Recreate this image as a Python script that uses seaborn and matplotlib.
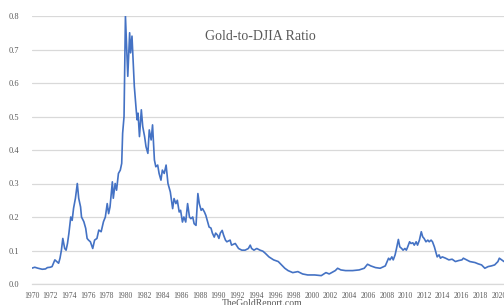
import matplotlib
matplotlib.use("Agg")
import matplotlib.pyplot as plt
import seaborn as sns
import pandas as pd

years = [1970.00, 1970.35, 1970.7, 1971.15, 1971.5, 1971.7, 1972.0, 1972.2, 1972.5, 1972.7,
         1972.9, 1973.05, 1973.2, 1973.35, 1973.55, 1973.7, 1973.85, 1974.0, 1974.2, 1974.35,
         1974.5, 1974.7, 1974.9, 1975.05, 1975.25, 1975.35, 1975.6, 1975.8, 1975.95, 1976.1,
         1976.3, 1976.55, 1976.75, 1977.0, 1977.2, 1977.45, 1977.7, 1977.9, 1978.1, 1978.25,
         1978.4, 1978.65, 1978.75, 1978.95, 1979.1, 1979.3, 1979.5, 1979.65, 1979.75, 1979.9,
         1980.05, 1980.3, 1980.5, 1980.6, 1980.75, 1980.85, 1981.0, 1981.2, 1981.3, 1981.4,
         1981.55, 1981.75, 1981.9, 1982.1, 1982.25, 1982.45, 1982.6, 1982.8, 1982.95, 1983.15,
         1983.3, 1983.5, 1983.65, 1983.85, 1984.0, 1984.2, 1984.4, 1984.6, 1984.85, 1985.1,
         1985.25, 1985.45, 1985.6, 1985.8, 1985.95, 1986.15, 1986.3, 1986.5, 1986.7, 1986.9,
         1987.05, 1987.25, 1987.4, 1987.6, 1987.8, 1987.95, 1988.15, 1988.3, 1988.5, 1988.65,
         1988.85, 1989.0, 1989.2, 1989.35, 1989.55, 1989.7, 1989.9, 1990.05, 1990.2, 1990.4,
         1990.55, 1990.75, 1990.9, 1991.25, 1991.4, 1991.8, 1992.15, 1992.5, 1992.85, 1993.2,
         1993.4, 1993.55, 1993.8, 1994.1, 1994.45, 1994.75, 1995.0, 1995.4, 1995.9, 1996.4,
         1996.75, 1997.1, 1997.45, 1997.95, 1998.5, 1999.0, 1999.55, 2000.3, 2001.0, 2001.5,
         2001.85, 2002.5, 2002.75, 2003.1, 2003.6, 2004.35, 2005.05, 2005.6, 2005.95, 2006.3,
         2006.8, 2007.3, 2007.85, 2008.2, 2008.35, 2008.55, 2008.7, 2008.9, 2009.05, 2009.25,
         2009.4, 2009.6, 2009.75, 2009.95, 2010.1, 2010.25, 2010.45, 2010.6, 2010.8, 2010.95,
         2011.15, 2011.3, 2011.5, 2011.7, 2011.85, 2012.0, 2012.2, 2012.4, 2012.55, 2012.75,
         2012.9, 2013.1, 2013.25, 2013.4, 2013.6, 2013.75, 2013.95, 2014.3, 2014.65, 2015.0,
         2015.35, 2015.7, 2016.05, 2016.2, 2016.55, 2016.9, 2017.45, 2017.8, 2018.15, 2018.5,
         2018.85, 2019.2, 2019.55, 2019.9, 2020.05, 2020.4, 2020.55]

ratio = [0.047, 0.050, 0.047, 0.044, 0.045, 0.049, 0.050, 0.052, 0.072, 0.067,
         0.062, 0.077, 0.101, 0.136, 0.106, 0.101, 0.121, 0.151, 0.200, 0.190,
         0.226, 0.256, 0.300, 0.256, 0.230, 0.200, 0.186, 0.166, 0.136, 0.131,
         0.126, 0.106, 0.131, 0.136, 0.161, 0.156, 0.186, 0.200, 0.240, 0.210,
         0.230, 0.305, 0.256, 0.300, 0.280, 0.330, 0.340, 0.360, 0.450, 0.500,
         0.800, 0.620, 0.750, 0.690, 0.740, 0.680, 0.590, 0.520, 0.490, 0.510,
         0.440, 0.520, 0.470, 0.440, 0.410, 0.390, 0.460, 0.430, 0.475, 0.370,
         0.350, 0.355, 0.330, 0.310, 0.340, 0.330, 0.355, 0.300, 0.275, 0.225,
         0.255, 0.240, 0.250, 0.215, 0.220, 0.185, 0.200, 0.185, 0.240, 0.200,
         0.195, 0.200, 0.180, 0.175, 0.270, 0.240, 0.220, 0.225, 0.215, 0.205,
         0.185, 0.170, 0.167, 0.152, 0.140, 0.152, 0.146, 0.136, 0.152, 0.160,
         0.146, 0.131, 0.126, 0.131, 0.116, 0.121, 0.106, 0.101, 0.101, 0.106,
         0.116, 0.106, 0.101, 0.106, 0.101, 0.098, 0.092, 0.081, 0.072, 0.067,
         0.057, 0.047, 0.040, 0.034, 0.037, 0.030, 0.027, 0.027, 0.025, 0.034,
         0.030, 0.040, 0.047, 0.042, 0.040, 0.040, 0.042, 0.047, 0.059, 0.054,
         0.049, 0.047, 0.054, 0.077, 0.072, 0.081, 0.072, 0.087, 0.106, 0.133,
         0.111, 0.106, 0.101, 0.106, 0.101, 0.111, 0.126, 0.121, 0.123, 0.116,
         0.126, 0.116, 0.131, 0.156, 0.141, 0.136, 0.126, 0.131, 0.126, 0.131,
         0.126, 0.111, 0.096, 0.081, 0.087, 0.077, 0.081, 0.077, 0.072, 0.074,
         0.067, 0.070, 0.072, 0.077, 0.072, 0.067, 0.064, 0.060, 0.057, 0.047,
         0.052, 0.054, 0.057, 0.067, 0.077, 0.070, 0.067]

x_ticks = list(range(1970, 2021, 2))
y_ticks = [0.0, 0.1, 0.2, 0.3, 0.4, 0.5, 0.6, 0.7, 0.8]
title = "Gold-to-DJIA Ratio"
source = "TheGoldReport.com"

df = pd.DataFrame({"year": years, "ratio": ratio})

sns.set_theme(style="white")
plt.rcParams["font.family"] = ["Liberation Serif", "DejaVu Serif"]

fig = plt.figure(figsize=(5.04, 3.05), dpi=100)
ax = fig.add_axes([31.5 / 504, (305 - 284) / 305, 1 - 31.5 / 504, (284 - 16) / 305])

sns.lineplot(data=df, x="year", y="ratio", ax=ax, color="#4472C4", linewidth=1.2)

ax.set_xlim(1970, 2020.55)
ax.set_ylim(0, 0.8)
ax.set_xticks(x_ticks)
ax.set_xticklabels([str(t) for t in x_ticks], fontsize=5.5, color="#595959")
ax.set_yticks(y_ticks)
ax.set_yticklabels([f"{t:.1f}" for t in y_ticks], fontsize=6, color="#595959")
ax.set_xlabel("")
ax.set_ylabel("")
ax.grid(axis="y", color="#d9d9d9", linewidth=0.9)
ax.set_axisbelow(True)
for s in ["top", "right", "left"]:
    ax.spines[s].set_visible(False)
ax.spines["bottom"].set_color("#d9d9d9")
ax.spines["bottom"].set_linewidth(0.9)
ax.tick_params(axis="x", length=3, width=0.8, color="#d9d9d9", pad=3)
ax.tick_params(axis="y", length=0, pad=9)

fig.text(260 / 504, 1 - 37 / 305, title, ha="center", va="center", fontsize=10, color="#595959")
fig.text(262 / 504, 1 - 299.5 / 305, source, ha="center", va="top", fontsize=7, color="#595959")

fig.savefig("out.png", dpi=100)
